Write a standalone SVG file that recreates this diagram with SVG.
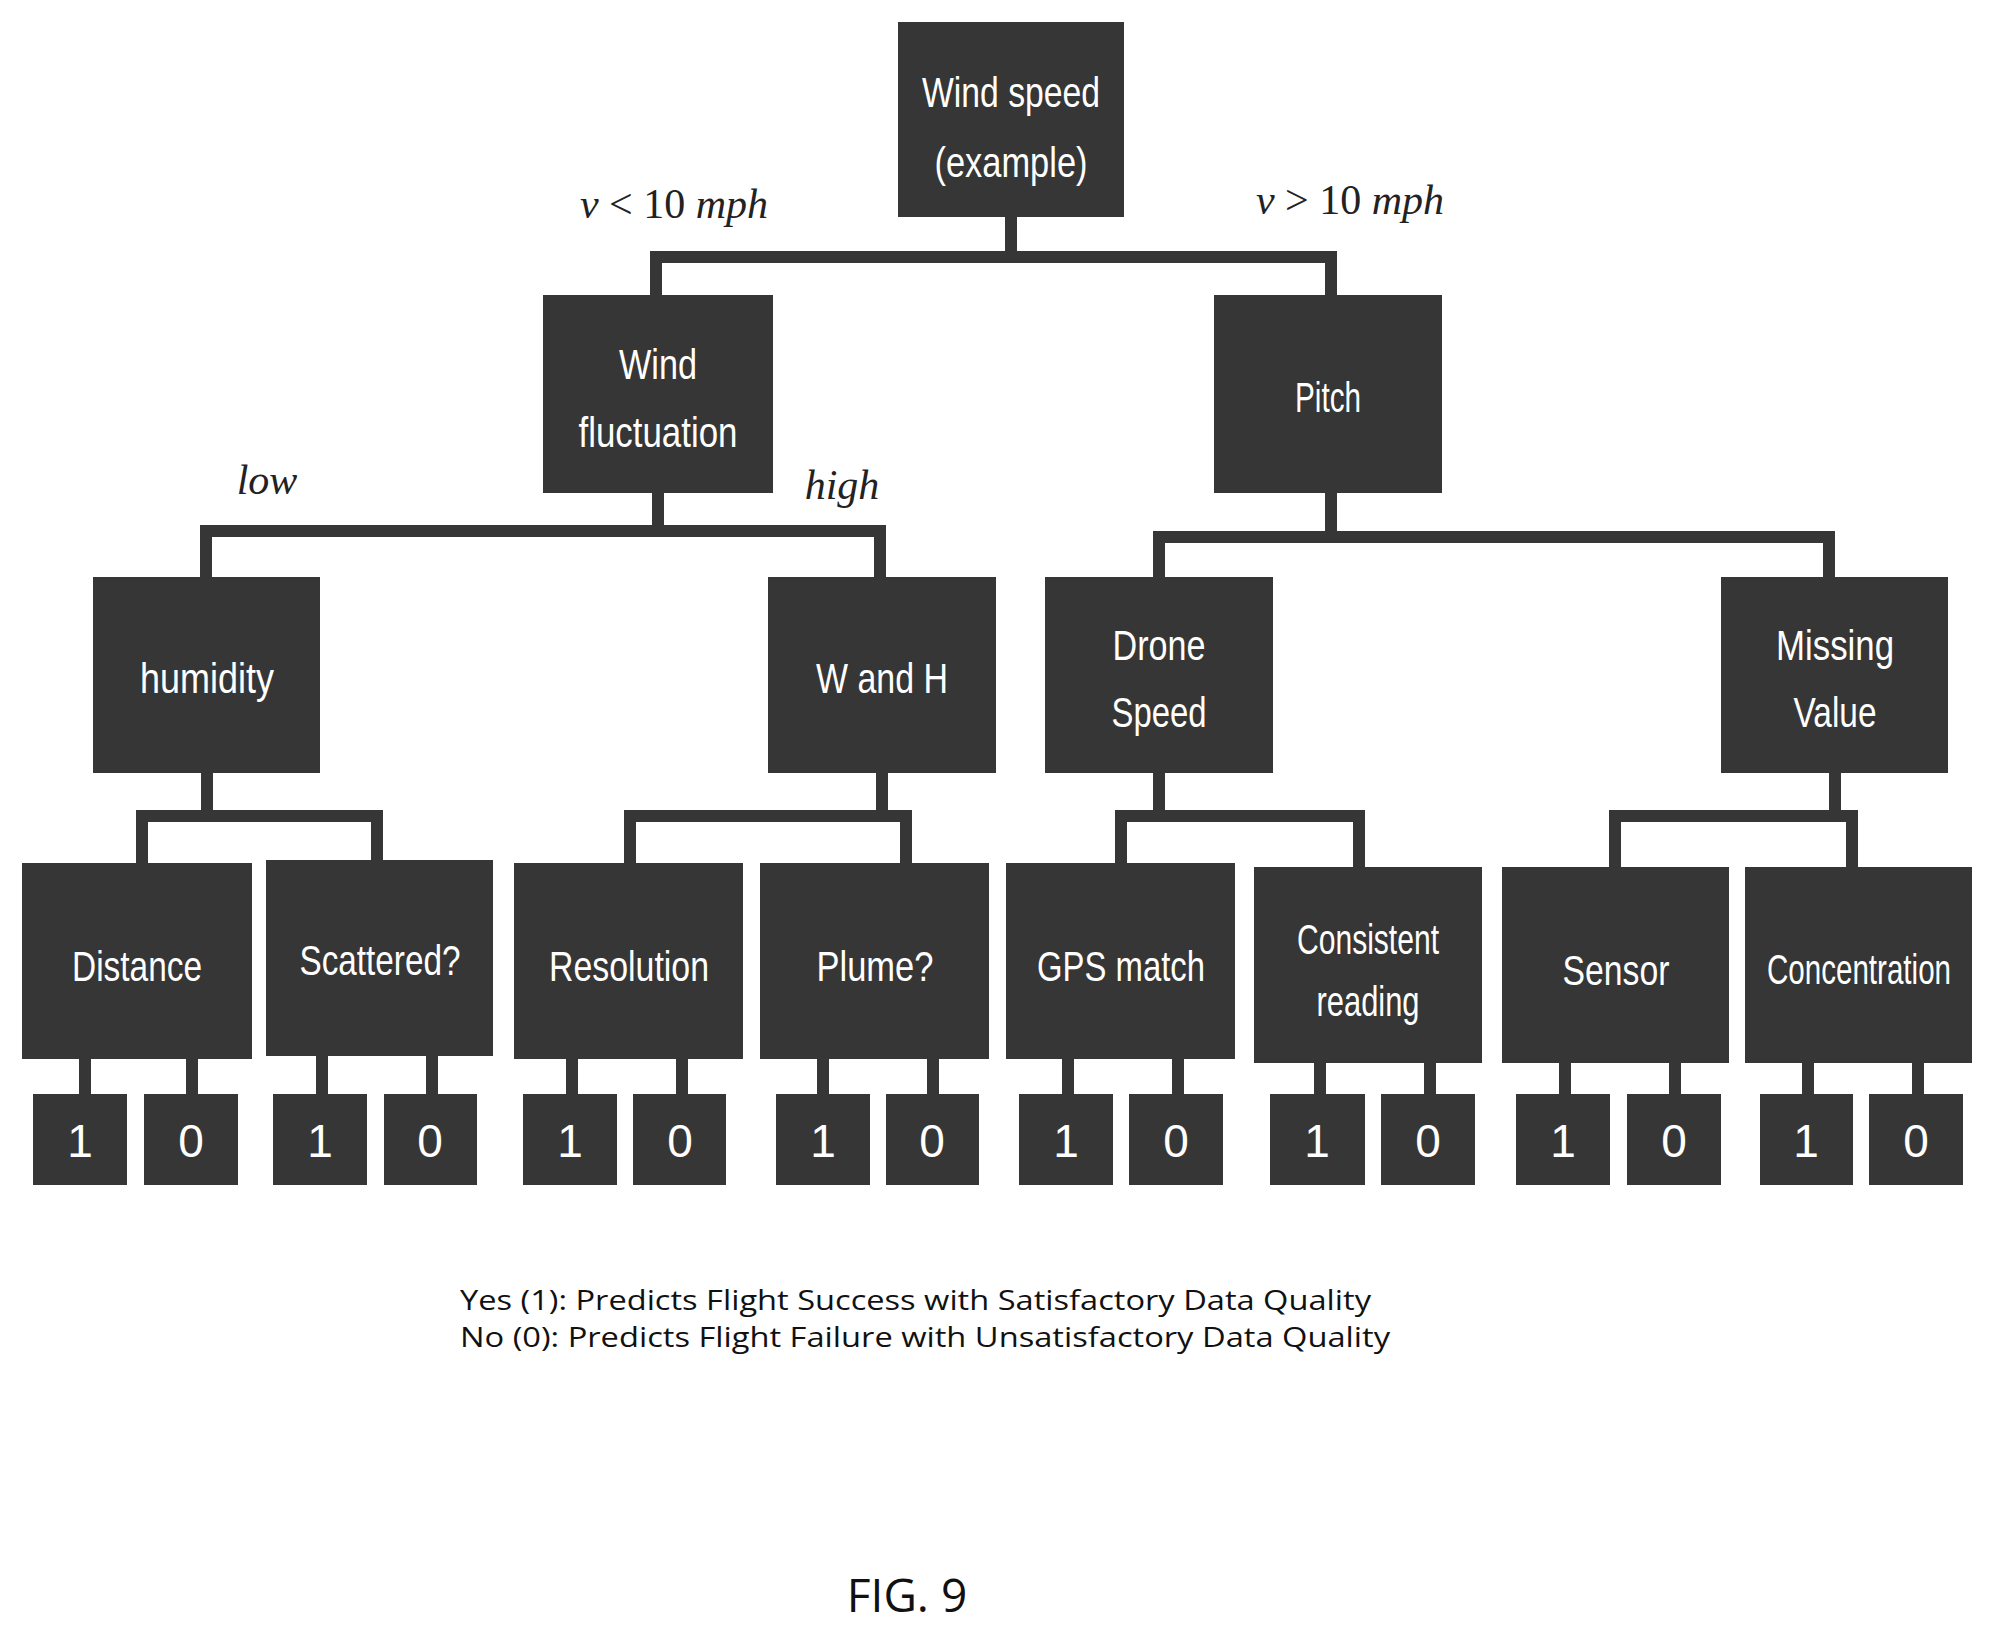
<svg xmlns="http://www.w3.org/2000/svg" width="1994" height="1633" viewBox="0 0 1994 1633">
<style>
.b{fill:#363636}
.t{fill:#fff;font-family:"Liberation Sans",Arial,sans-serif;font-size:42px;text-anchor:middle;dominant-baseline:central}
.d{fill:#fff;font-family:"Liberation Sans",Arial,sans-serif;font-size:46px;text-anchor:middle;dominant-baseline:central}
.c{fill:none;stroke:#363636;stroke-width:12;stroke-linejoin:miter;stroke-linecap:square}
.m{font-family:"Liberation Serif","Times New Roman",serif;font-size:42px;fill:#222;text-anchor:middle}
.l{font-family:"Open Sans","Liberation Sans",sans-serif;font-size:28px;fill:#111}
.f{font-family:"Open Sans","Liberation Sans",sans-serif;font-size:46px;fill:#111;text-anchor:middle}
</style>
<rect width="1994" height="1633" fill="#fff"/>
<g id="connectors">
<path class="c" d="M1011 217V257M656 295V257H1331V295"/>
<path class="c" d="M658 493V531M206 577V531H880V577"/>
<path class="c" d="M1331 493V537M1159 577V537H1829V577"/>
<path class="c" d="M207 773V816M142 863V816H377V863"/>
<path class="c" d="M882 773V816M630 863V816H906V863"/>
<path class="c" d="M1159 773V816M1121 863V816H1359V867"/>
<path class="c" d="M1835 773V816M1615 867V816H1852V867"/>
<path class="c" d="M85 1059V1094M192 1059V1094M322 1056V1094M432 1056V1094M572 1059V1094M682 1059V1094M823 1059V1094M933 1059V1094M1068 1059V1094M1178 1059V1094M1320 1063V1094M1430 1063V1094M1565 1063V1094M1675 1063V1094M1808 1063V1094M1918 1063V1094"/>
</g>
<g id="root"><rect class="b" x="898" y="22" width="226" height="195"/><text class="t" x="1011" y="92" textLength="178" lengthAdjust="spacingAndGlyphs">Wind speed</text><text class="t" x="1011" y="162" textLength="153" lengthAdjust="spacingAndGlyphs">(example)</text></g>
<g id="wf"><rect class="b" x="543" y="295" width="230" height="198"/><text class="t" x="658" y="364" textLength="78" lengthAdjust="spacingAndGlyphs">Wind</text><text class="t" x="658" y="432" textLength="159" lengthAdjust="spacingAndGlyphs">fluctuation</text></g>
<g id="pitch"><rect class="b" x="1214" y="295" width="228" height="198"/><text class="t" x="1328" y="397" textLength="66" lengthAdjust="spacingAndGlyphs">Pitch</text></g>
<g id="humidity"><rect class="b" x="93" y="577" width="227" height="196"/><text class="t" x="207" y="678" textLength="134" lengthAdjust="spacingAndGlyphs">humidity</text></g>
<g id="wh"><rect class="b" x="768" y="577" width="228" height="196"/><text class="t" x="882" y="678" textLength="132" lengthAdjust="spacingAndGlyphs">W and H</text></g>
<g id="drone"><rect class="b" x="1045" y="577" width="228" height="196"/><text class="t" x="1159" y="645" textLength="93" lengthAdjust="spacingAndGlyphs">Drone</text><text class="t" x="1159" y="712" textLength="95" lengthAdjust="spacingAndGlyphs">Speed</text></g>
<g id="missing"><rect class="b" x="1721" y="577" width="227" height="196"/><text class="t" x="1835" y="645" textLength="118" lengthAdjust="spacingAndGlyphs">Missing</text><text class="t" x="1835" y="712" textLength="83" lengthAdjust="spacingAndGlyphs">Value</text></g>
<g id="distance"><rect class="b" x="22" y="863" width="230" height="196"/><text class="t" x="137" y="966" textLength="130" lengthAdjust="spacingAndGlyphs">Distance</text></g>
<g id="scattered"><rect class="b" x="266" y="860" width="227" height="196"/><text class="t" x="380" y="960" textLength="161" lengthAdjust="spacingAndGlyphs">Scattered?</text></g>
<g id="resolution"><rect class="b" x="514" y="863" width="229" height="196"/><text class="t" x="629" y="966" textLength="160" lengthAdjust="spacingAndGlyphs">Resolution</text></g>
<g id="plume"><rect class="b" x="760" y="863" width="229" height="196"/><text class="t" x="875" y="966" textLength="117" lengthAdjust="spacingAndGlyphs">Plume?</text></g>
<g id="gps"><rect class="b" x="1006" y="863" width="229" height="196"/><text class="t" x="1121" y="966" textLength="168" lengthAdjust="spacingAndGlyphs">GPS match</text></g>
<g id="consistent"><rect class="b" x="1254" y="867" width="228" height="196"/><text class="t" x="1368" y="939" textLength="142" lengthAdjust="spacingAndGlyphs">Consistent</text><text class="t" x="1368" y="1001" textLength="103" lengthAdjust="spacingAndGlyphs">reading</text></g>
<g id="sensor"><rect class="b" x="1502" y="867" width="227" height="196"/><text class="t" x="1616" y="970" textLength="107" lengthAdjust="spacingAndGlyphs">Sensor</text></g>
<g id="concentration"><rect class="b" x="1745" y="867" width="227" height="196"/><text class="t" x="1859" y="969" textLength="184" lengthAdjust="spacingAndGlyphs">Concentration</text></g>
<g id="leaves">
<rect class="b" x="33" y="1094" width="94" height="91"/><text class="d" x="80" y="1141">1</text>
<rect class="b" x="144" y="1094" width="94" height="91"/><text class="d" x="191" y="1141">0</text>
<rect class="b" x="273" y="1094" width="94" height="91"/><text class="d" x="320" y="1141">1</text>
<rect class="b" x="384" y="1094" width="93" height="91"/><text class="d" x="430" y="1141">0</text>
<rect class="b" x="523" y="1094" width="94" height="91"/><text class="d" x="570" y="1141">1</text>
<rect class="b" x="633" y="1094" width="93" height="91"/><text class="d" x="680" y="1141">0</text>
<rect class="b" x="776" y="1094" width="94" height="91"/><text class="d" x="823" y="1141">1</text>
<rect class="b" x="886" y="1094" width="93" height="91"/><text class="d" x="932" y="1141">0</text>
<rect class="b" x="1019" y="1094" width="94" height="91"/><text class="d" x="1066" y="1141">1</text>
<rect class="b" x="1129" y="1094" width="94" height="91"/><text class="d" x="1176" y="1141">0</text>
<rect class="b" x="1270" y="1094" width="95" height="91"/><text class="d" x="1317" y="1141">1</text>
<rect class="b" x="1381" y="1094" width="94" height="91"/><text class="d" x="1428" y="1141">0</text>
<rect class="b" x="1516" y="1094" width="94" height="91"/><text class="d" x="1563" y="1141">1</text>
<rect class="b" x="1627" y="1094" width="94" height="91"/><text class="d" x="1674" y="1141">0</text>
<rect class="b" x="1760" y="1094" width="93" height="91"/><text class="d" x="1806" y="1141">1</text>
<rect class="b" x="1869" y="1094" width="94" height="91"/><text class="d" x="1916" y="1141">0</text>
</g>
<g id="edge-labels">
<text class="m" x="674" y="218"><tspan font-style="italic">v</tspan> &lt; 10 <tspan font-style="italic">mph</tspan></text>
<text class="m" x="1350" y="214"><tspan font-style="italic">v</tspan> &gt; 10 <tspan font-style="italic">mph</tspan></text>
<text class="m" x="267" y="494" font-style="italic">low</text>
<text class="m" x="842" y="499" font-style="italic">high</text>
</g>
<g id="legend">
<text class="l" x="460" y="1310" textLength="911" lengthAdjust="spacingAndGlyphs">Yes (1):  Predicts Flight Success with Satisfactory Data Quality</text>
<text class="l" x="460" y="1347" textLength="930" lengthAdjust="spacingAndGlyphs">No (0): Predicts Flight  Failure with Unsatisfactory Data Quality</text>
<text class="f" x="907" y="1612">FIG. 9</text>
</g>
</svg>
